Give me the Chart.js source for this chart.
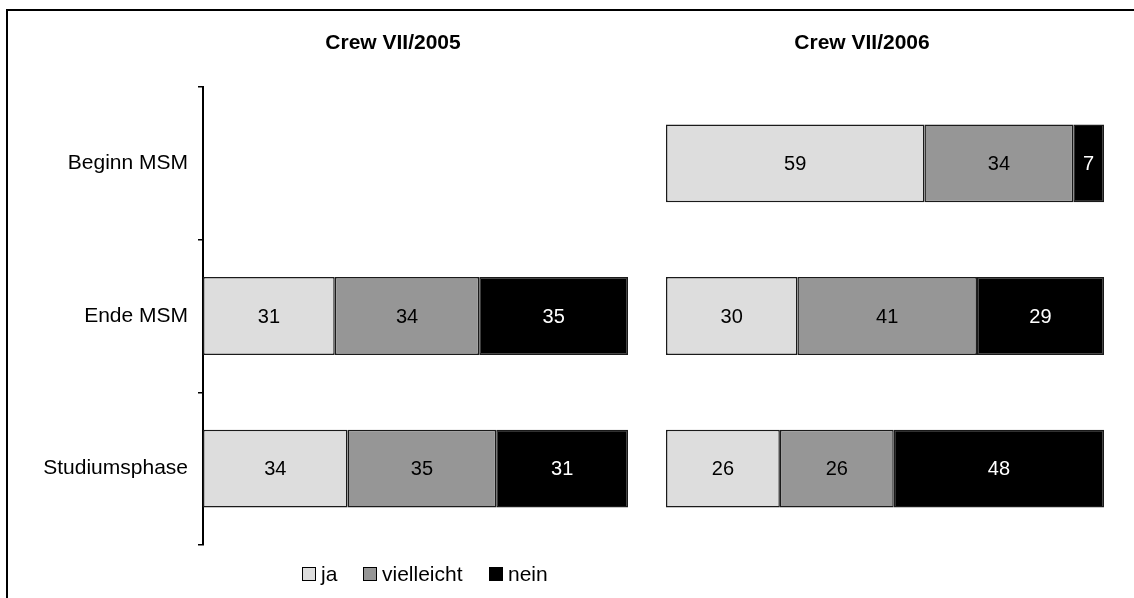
<!DOCTYPE html>
<html>
<head>
<meta charset="utf-8">
<script src="https://cdn.jsdelivr.net/npm/chart.js@4.4.0/dist/chart.umd.min.js"></script>
<style>
  html, body { margin: 0; padding: 0; background: #fff; }
  body { width: 1134px; height: 598px; position: relative; overflow: hidden;
         font-family: 'Liberation Sans', Arial, sans-serif; color: #000; }
  .frame { position: absolute; left: 6px; top: 9px; width: 1200px; height: 700px;
           border-top: 2px solid #000; border-left: 2px solid #000; }
  canvas { position: absolute; top: 0; }
  .title { position: absolute; top: 30px; font-weight: bold; font-size: 21px;
           transform: translateX(-50%); white-space: nowrap; }
  .legend .item { position: absolute; top: 562px; display: flex; align-items: center; font-size: 21px; }
  .legend span.box { display: inline-block; width: 12px; height: 12px; border: 1px solid #000;
                     margin-right: 5px; }
</style>
</head>
<body>
<div class="frame"></div>
<canvas id="chart2005" width="640" height="598" style="left:0"></canvas>
<canvas id="chart2006" width="494" height="598" style="left:640px"></canvas>
<div class="title" style="left:393px">Crew VII/2005</div>
<div class="title" style="left:862px">Crew VII/2006</div>
<div class="legend" id="legend"></div>
<script>
'use strict';

/* ── DATA ── */
const categories = ['Beginn MSM', 'Ende MSM', 'Studiumsphase'];
const seriesNames = ['ja', 'vielleicht', 'nein'];
const seriesColors = ['#dddddd', '#969696', '#000000'];
const labelColors = ['#000000', '#000000', '#ffffff'];

const ja2005 = [null, 31, 34];
const vielleicht2005 = [null, 34, 35];
const nein2005 = [null, 35, 31];

const ja2006 = [59, 30, 26];
const vielleicht2006 = [34, 41, 26];
const nein2006 = [7, 29, 48];

/* ── value labels inside the bars ── */
const barLabels = {
  id: 'barLabels',
  afterDatasetsDraw(chart) {
    const ctx = chart.ctx;
    ctx.save();
    ctx.font = "20px 'Liberation Sans', Arial, sans-serif";
    ctx.textAlign = 'center';
    ctx.textBaseline = 'middle';
    chart.data.datasets.forEach((ds, di) => {
      const meta = chart.getDatasetMeta(di);
      meta.data.forEach((bar, i) => {
        const v = ds.data[i];
        if (v == null) return;
        const p = bar.getCenterPoint();
        ctx.fillStyle = labelColors[di];
        ctx.fillText(String(v), p.x, p.y + 1);
      });
    });
    ctx.restore();
  },
};

function makeDatasets(values) {
  return values.map((data, i) => ({
    label: seriesNames[i],
    data,
    backgroundColor: seriesColors[i],
    borderColor: '#1a1a1a',
    borderWidth: 1.5,
    borderSkipped: false,
    barPercentage: 0.51,
    categoryPercentage: 1,
  }));
}

function makeChart(id, values, showAxis, padding) {
  return new Chart(document.getElementById(id), {
    type: 'bar',
    data: { labels: categories, datasets: makeDatasets(values) },
    plugins: [barLabels],
    options: {
      indexAxis: 'y',
      responsive: false,
      animation: false,
      devicePixelRatio: 1,
      layout: { padding },
      plugins: { legend: { display: false }, tooltip: { enabled: false } },
      scales: {
        x: { stacked: true, min: 0, max: 100, display: false },
        y: {
          stacked: true,
          display: showAxis,
          grid: { drawOnChartArea: false, drawTicks: true, tickLength: 5, color: '#000', lineWidth: 1.5 },
          border: { display: true, color: '#000', width: 2 },
          ticks: { color: '#000', padding: 10, font: { family: "'Liberation Sans', Arial, sans-serif", size: 21 } },
          afterFit: s => { s.width = showAxis ? 203 : 0; },
        },
      },
    },
  });
}

makeChart('chart2005', [ja2005, vielleicht2005, nein2005], true,
  { left: 0, right: 12, top: 87, bottom: 53 });
makeChart('chart2006', [ja2006, vielleicht2006, nein2006], false,
  { left: 26, right: 30, top: 87, bottom: 53 });

/* ── legend ── */
const legendLeft = [302, 363, 489];
const legend = document.getElementById('legend');
seriesNames.forEach((name, i) => {
  const item = document.createElement('div');
  item.className = 'item';
  item.style.left = legendLeft[i] + 'px';
  item.innerHTML = `<span class="box" style="background:${seriesColors[i]}"></span>${name}`;
  legend.appendChild(item);
});
</script>
</body>
</html>
